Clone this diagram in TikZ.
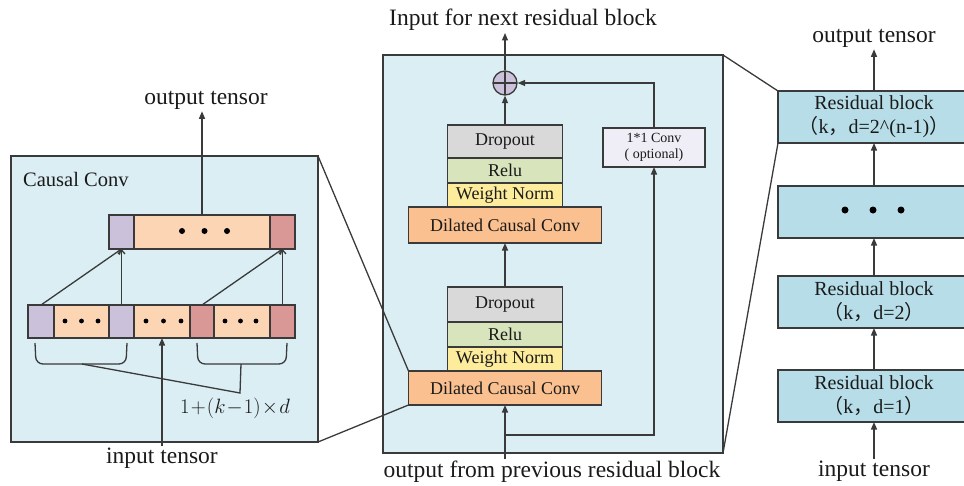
\documentclass[tikz,border=0pt]{standalone}
\usepackage{fontspec}
\setmainfont{Liberation Serif}
\newfontfamily\cjk{Noto Sans CJK SC}
\usetikzlibrary{arrows.meta}
\definecolor{panel}{HTML}{DBEEF4}
\definecolor{rbox}{HTML}{B7DEE8}
\definecolor{peach}{HTML}{FCD5B4}
\definecolor{purp}{HTML}{CCC1DA}
\definecolor{redc}{HTML}{D99795}
\definecolor{gray1}{HTML}{D9D9D9}
\definecolor{green1}{HTML}{D7E4BC}
\definecolor{yel}{HTML}{FCEC9C}
\definecolor{orng}{HTML}{FAC08F}
\definecolor{lav}{HTML}{EFEDF5}
\definecolor{lc}{HTML}{3A3A3A}
\definecolor{txt}{HTML}{1A1A1A}
\tikzset{
 ln/.style={draw=lc, line width=1.3pt},
 arr/.style={ln, -{Triangle[length=7.5pt,width=6pt]}},
 oarr/.style={ln, -{Straight Barb[length=4pt,width=7pt]}},
 cell/.style={draw=lc, line width=1.3pt, inner sep=0pt, outer sep=0pt, anchor=west},
 layer/.style={draw=lc, line width=1.3pt, inner sep=0pt, outer sep=0pt, text=txt, font=\fontsize{18}{20}\selectfont},
 lab/.style={text=txt, inner sep=2pt, font=\fontsize{23.5}{26}\selectfont},
 rb/.style={draw=lc, line width=1.3pt, fill=rbox, minimum width=192pt, minimum height=52pt, inner sep=0pt, outer sep=0pt, align=center, text=txt, font=\fontsize{20}{24}\selectfont},
 pnl/.style={draw=lc, line width=1.3pt, fill=panel},
}
\newcommand\threedots[4]{\fill[black] (#1,#4) circle (#3) (#2,#4) circle (#3) ({(#1+#2)/2},#4) circle (#3);}
\begin{document}
\begin{tikzpicture}[x=1pt,y=-1pt]
\useasboundingbox (0,0) rectangle (964,485);
% panels
\path[pnl] (11,156) rectangle (318,442);
\path[pnl] (383,55) rectangle (723,453);

% ---------------- left panel ----------------
\node[text=txt, anchor=west, inner sep=0pt, font=\fontsize{20.5}{22}\selectfont] (cc) at (23,179) {Causal Conv};
% top row
\node[cell, fill=purp, minimum width=25pt, minimum height=34pt] (tp) at (109,232) {};
\node[cell, fill=peach, minimum width=136pt, minimum height=34pt] (tc) at (134,232) {};
\node[cell, fill=redc, minimum width=25pt, minimum height=34pt] (tr) at (270,232) {};
% bottom row
\node[cell, fill=purp, minimum width=26pt, minimum height=33pt] (p1) at (28,321.5) {};
\node[cell, fill=peach, minimum width=55pt, minimum height=33pt] (c1) at (54,321.5) {};
\node[cell, fill=purp, minimum width=25pt, minimum height=33pt] (p2) at (109,321.5) {};
\node[cell, fill=peach, minimum width=56pt, minimum height=33pt] (c2) at (134,321.5) {};
\node[cell, fill=redc, minimum width=24pt, minimum height=33pt] (r1) at (190,321.5) {};
\node[cell, fill=peach, minimum width=56pt, minimum height=33pt] (c3) at (214,321.5) {};
\node[cell, fill=redc, minimum width=25pt, minimum height=33pt] (r2) at (270,321.5) {};
\threedots{182}{227}{3pt}{231}
\threedots{65}{98}{2.4pt}{321}
\threedots{146}{181}{2.4pt}{321}
\threedots{225}{256}{2.4pt}{321}
% connections
\draw[oarr] (p1.north) -- (tp.south);
\draw[oarr] (p2.north) -- (tp.south -| p2.north);
\draw[oarr] (r1.north) -- (tr.south);
\draw[oarr] (r2.north) -- (tr.south);
% labels
\node[lab] (lout) at (206,100) {output tensor};
\draw[arr] (tc.north -| 202,0) -- (lout.south -| 202,0);
\node[lab] (lin) at (162,458) {input tensor};
\draw[arr] (lin.north) -- (c2.south -| lin.north);
% brackets
\draw[ln, rounded corners=7pt] (35,343) -- (36,364) -- (126,364) -- (127,343);
\draw[ln, rounded corners=7pt] (197,343) -- (198,364) -- (286,364) -- (287,343);
\coordinate (bl) at (82,364);
\coordinate (br) at (241,364);
\coordinate (bj) at (240,393);
\draw[ln] (bl) -- (bj) -- (br);
\node[text=txt, inner sep=0pt, font=\fontsize{21}{23}\selectfont] (form) at (235,408) {$1\mkern1mu{+}\mkern1mu(k\mkern1mu{-}\mkern1mu1)\mkern1mu{\times}\mkern1mu d$};

% ---------------- middle panel ----------------
\node[lab] (title) at (523,20) {Input for next residual block};
\node[draw=lc, line width=1.3pt, fill=purp, circle, minimum size=24pt, inner sep=0pt,
  path picture={\draw[lc, line width=1.3pt] (path picture bounding box.north) -- (path picture bounding box.south) (path picture bounding box.west) -- (path picture bounding box.east);}] (plus) at (505,83) {};
\draw[arr] (plus.north) -- (plus.north |- title.south);

\node[layer, fill=gray1, minimum width=115pt, minimum height=33pt] (do1) at (505,141.5) {Dropout};
\node[layer, fill=green1, minimum width=115pt, minimum height=25pt] (re1) at (505,170.5) {Relu};
\node[layer, fill=yel, minimum width=115pt, minimum height=24pt] (wn1) at (505,195) {Weight Norm};
\node[layer, fill=orng, minimum width=193pt, minimum height=36pt] (dc1) at (505,225) {Dilated Causal Conv};

\node[layer, fill=gray1, minimum width=115pt, minimum height=35pt] (do2) at (505,304.5) {Dropout};
\node[layer, fill=green1, minimum width=115pt, minimum height=25pt] (re2) at (505,334.5) {Relu};
\node[layer, fill=yel, minimum width=115pt, minimum height=24pt] (wn2) at (505,359) {Weight Norm};
\node[layer, fill=orng, minimum width=193pt, minimum height=34pt] (dc2) at (505,388) {Dilated Causal Conv};

\draw[arr] (do1.north) -- (plus.south);
\draw[arr] (do2.north) -- (dc1.south);

\node[layer, fill=lav, minimum width=102pt, minimum height=39pt, align=center, font=\fontsize{14}{16}\selectfont] (cv) at (654,147.5) {1*1 Conv\\( optional)};
\coordinate (sk) at (505,435);
\draw[arr] (sk) -| (cv.south);
\draw[arr] (cv.north) |- (plus.east);

\node[lab] (prev) at (552,472) {output from previous residual block};
\draw[arr] (prev.north -| dc2.south) -- (dc2.south);

% zoom lines left -> middle
\draw[ln] (318,156) -- (dc2.north west);
\draw[ln] (318,442) -- (dc2.south west);

% ---------------- right panel ----------------
\node[rb] (rb3) at (874,117) {Residual block\\{\cjk （}k{\cjk ，}d=2\textasciicircum(n-1){\cjk ）}};
\node[rb] (rbd) at (874,212) {};
\threedots{845}{901}{3.5pt}{210}
\node[rb] (rb2) at (874,302) {Residual block\\{\cjk （}k{\cjk ，}d=2{\cjk ）}};
\node[rb] (rb1) at (874,396) {Residual block\\{\cjk （}k{\cjk ，}d=1{\cjk ）}};
\node[lab] (rout) at (874,38) {output tensor};
\node[lab] (rin) at (874,471) {input tensor};
\draw[arr] (rb3.north) -- (rout.south);
\draw[arr] (rbd.north) -- (rb3.south);
\draw[arr] (rb2.north) -- (rbd.south);
\draw[arr] (rb1.north) -- (rb2.south);
\draw[arr] (rin.north) -- (rb1.south);

\draw[ln] (723,55) -- (rb3.north west);
\draw[ln] (723,453) -- (rb3.south west);
\end{tikzpicture}
\end{document}
